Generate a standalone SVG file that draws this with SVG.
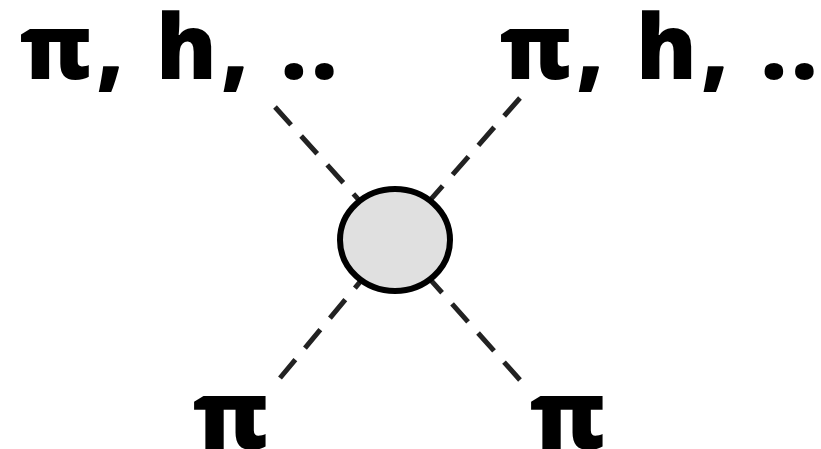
<svg xmlns="http://www.w3.org/2000/svg" width="821" height="449" viewBox="0 0 821 449">
<style>
.lbl{font-family:"Open Sans","Noto Sans","DejaVu Sans",sans-serif;font-weight:800;font-size:91px;fill:#000}
.big{font-size:96px}
.edge{stroke:#222;stroke-width:5;stroke-dasharray:24 15;fill:none}
</style>
<rect width="821" height="449" fill="#fff"/>
<g id="connectors">
<line class="edge" x1="275" y1="107" x2="395" y2="240"/>
<line class="edge" x1="520" y1="98" x2="395" y2="240"/>
<line class="edge" x1="280" y1="378" x2="395" y2="240"/>
<line class="edge" x1="520" y1="380" x2="395" y2="240"/>
</g>
<g id="blob">
<ellipse cx="395" cy="240" rx="55" ry="51" fill="#e0e0e0" stroke="#000" stroke-width="6"/>
</g>
<g id="out-left"><text class="lbl" x="20" y="79" letter-spacing="4">π, h, ..</text></g>
<g id="out-right"><text class="lbl" x="500" y="79" letter-spacing="4">π, h, ..</text></g>
<g id="in-left"><text class="lbl big" x="193" y="449">π</text></g>
<g id="in-right"><text class="lbl big" x="530" y="449">π</text></g>
</svg>
